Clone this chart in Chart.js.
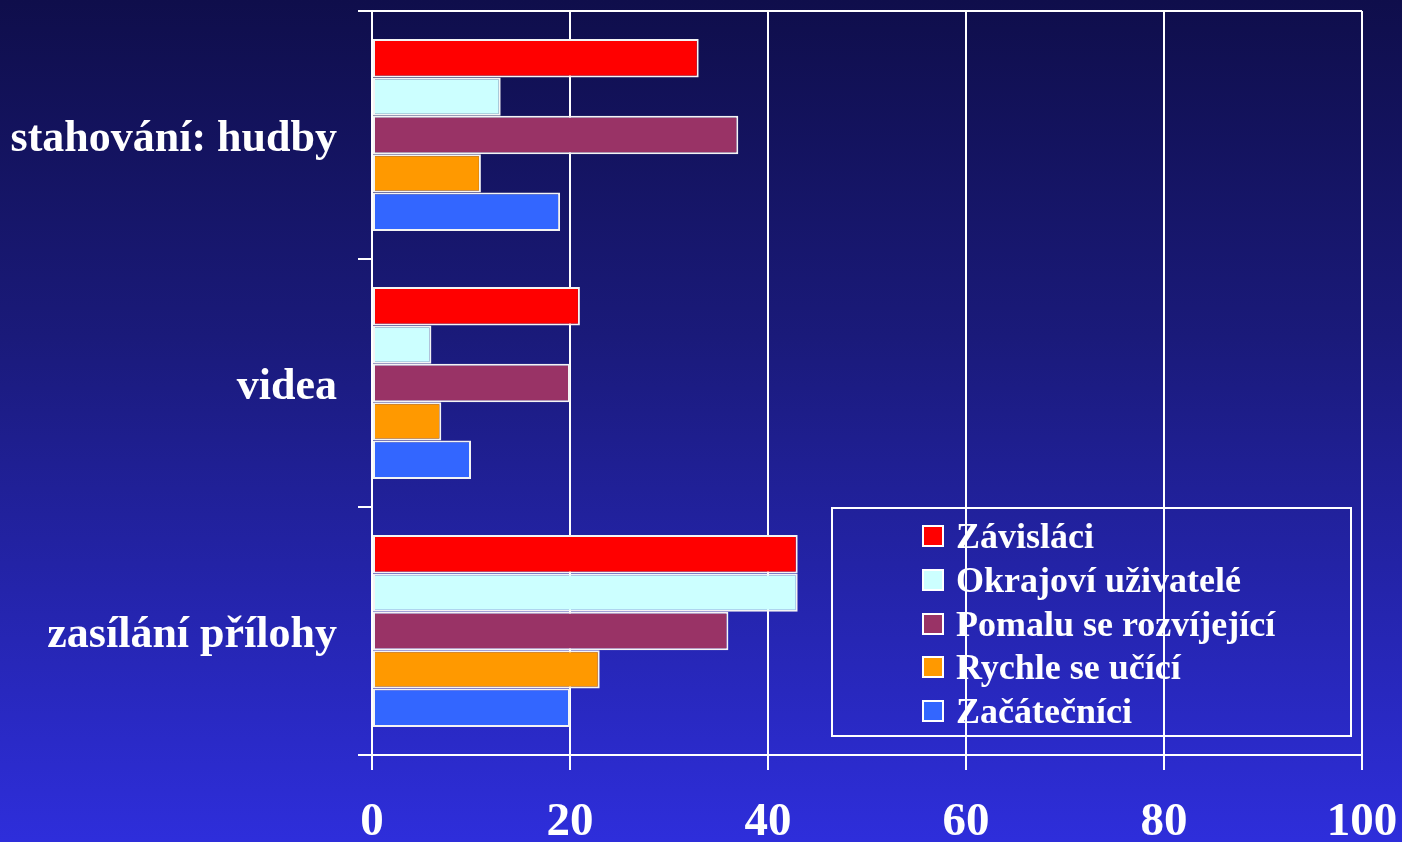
<!DOCTYPE html>
<html>
<head>
<meta charset="utf-8">
<script src="https://cdn.jsdelivr.net/npm/chart.js@4.4.1/dist/chart.umd.min.js"></script>
<style>
  html, body { margin: 0; padding: 0; }
  body {
    width: 1402px; height: 842px; overflow: hidden;
    background: linear-gradient(to bottom, #0f0e4b 0%, #1a1a7a 40%, #2e2edb 100%);
    font-family: "Liberation Serif", "Times New Roman", serif;
  }
  #wrap { position: relative; width: 1402px; height: 842px; }
  #legend {
    position: absolute; left: 831px; top: 507px; width: 517px; height: 226px;
    border: 2px solid #ffffff; box-sizing: content-box;
  }
  #legend .item {
    position: absolute; left: 89px; height: 44px; display: flex; align-items: center;
    color: #fff; font-weight: bold; font-size: 36px; white-space: nowrap;
  }
  #legend .sw {
    width: 18px; height: 18px; border: 2px solid #fff; margin-right: 12px;
  }
</style>
</head>
<body>
<div id="wrap">
  <canvas id="chart" width="1402" height="842"></canvas>
  <div id="legend"></div>
</div>
<script>
const categories = ["stahování: hudby", "videa", "zasílání přílohy"];
const seriesNames = ["Závisláci", "Okrajoví uživatelé", "Pomalu se rozvíjející", "Rychle se učící", "Začátečníci"];
const seriesColors = ["#ff0000", "#ccffff", "#993366", "#ff9900", "#3366ff"];
const zavislaci = [33, 21, 43];
const okrajovi = [13, 6, 43];
const pomalu = [37, 20, 36];
const rychle = [11, 7, 23];
const zacatecnici = [19, 10, 20];
const xTicks = [0, 20, 40, 60, 80, 100];

const values = [zavislaci, okrajovi, pomalu, rychle, zacatecnici];

const datasets = values.map((v, i) => ({
  label: seriesNames[i],
  data: v,
  backgroundColor: seriesColors[i],
  borderColor: "#f4f4f4",
  borderWidth: 2,
  borderSkipped: false,
  categoryPercentage: 0.774,
  barPercentage: 1.0
}));

const font = "'Liberation Serif', 'Times New Roman', serif";

const chart = new Chart(document.getElementById("chart"), {
  type: "bar",
  data: { labels: categories, datasets },
  options: {
    indexAxis: "y",
    responsive: false,
    animation: false,
    layout: { padding: { top: 11, right: 40, left: 0, bottom: 0 } },
    plugins: { legend: { display: false }, tooltip: { enabled: false } },
    scales: {
      x: {
        min: 0, max: 100,
        afterBuildTicks: s => { s.ticks = xTicks.map(v => ({ value: v })); },
        afterFit: s => { s.height = 87; s.paddingLeft = 0; s.paddingRight = 0; },
        grid: { color: "#ffffff", lineWidth: 2, tickLength: 15, tickColor: "#ffffff" },
        border: { color: "#ffffff", width: 2 },
        ticks: { color: "#ffffff", padding: 25, font: { family: font, size: 47, weight: "bold" } }
      },
      y: {
        afterFit: s => { s.width = 372; s.paddingTop = 0; s.paddingBottom = 0; },
        grid: {
          offset: true,
          color: c => (c.index === 0 ? "#ffffff" : "rgba(0,0,0,0)"),
          tickColor: "#ffffff",
          lineWidth: 2,
          tickLength: 14
        },
        border: { color: "#ffffff", width: 2 },
        ticks: { color: "#ffffff", padding: 21, labelOffset: 5, font: { family: font, size: 44, weight: "bold" } }
      }
    }
  }
});

// legend built from the series
const legend = document.getElementById("legend");
seriesNames.forEach((name, i) => {
  const item = document.createElement("div");
  item.className = "item";
  item.style.top = (5 + i * 43.8) + "px";
  item.innerHTML = `<span class="sw" style="background:${seriesColors[i]}"></span><span>${name}</span>`;
  legend.appendChild(item);
});
</script>
</body>
</html>
